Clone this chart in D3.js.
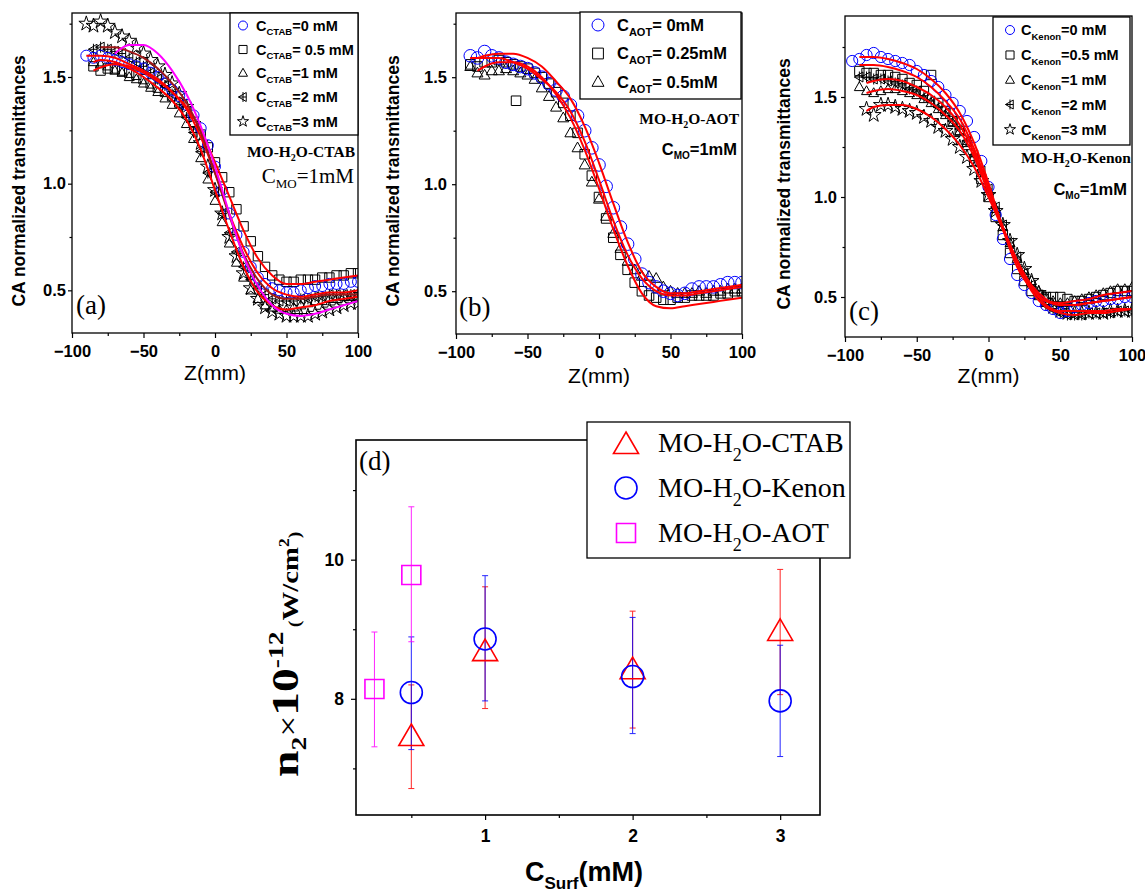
<!DOCTYPE html>
<html><head><meta charset="utf-8">
<script src="https://cdn.jsdelivr.net/npm/d3@7"></script>
<style>body{margin:0;background:#fff}svg{display:block}</style>
</head><body><svg id="c" width="1145" height="895"></svg>
<script>
// ---------------- DATA ----------------
const Z_90 = [-90,-85,-80,-75,-70,-65,-60,-55,-50,-45,-40,-35,-30,-25,-20,-15,-10,-5,0,5,10,15,20,25,30,35,40,45,50,55,60,65,70,75,80,85,90,95,100];
const Z_95 = [-95,-90,-85,-80,-75,-70,-65,-60,-55,-50,-45,-40,-35,-30,-25,-20,-15,-10,-5,0,5,10,15,20,25,30,35,40,45,50,55,60,65,70,75,80,85,90,95,100];
const FIT_Z = [-90,-85,-80,-70,-60,-50,-40,-30,-20,-10,0,10,20,30,40,50,60,70,80,90,100];

// panel (a) MO-H2O-CTAB
const A_C0   = [1.60,1.59,1.60,1.59,1.58,1.57,1.56,1.55,1.54,1.52,1.50,1.47,1.44,1.41,1.37,1.32,1.26,1.18,1.08,0.97,0.86,0.76,0.68,0.61,0.56,0.53,0.51,0.50,0.49,0.49,0.50,0.51,0.52,0.52,0.53,0.53,0.53,0.54,0.54];
const A_C05  = [null,1.55,1.53,1.54,1.54,1.53,1.52,1.51,1.49,1.47,1.45,1.43,1.41,1.38,1.34,1.29,1.23,1.17,1.10,1.03,0.96,0.88,0.80,0.73,0.66,0.61,0.57,0.55,0.54,0.54,0.55,0.55,0.55,0.56,0.56,0.57,0.57,0.58,0.58];
const A_C1   = [null,1.57,1.56,1.55,1.53,1.52,1.50,1.49,1.47,1.45,1.43,1.40,1.37,1.33,1.28,1.21,1.12,1.02,0.92,0.82,0.72,0.63,0.56,0.50,0.46,0.43,0.42,0.41,0.41,0.42,0.43,0.44,0.45,0.45,0.46,0.46,0.47,0.47,0.47];
const A_C2   = [null,1.63,1.64,1.63,1.62,1.61,1.59,1.57,1.55,1.52,1.49,1.46,1.42,1.37,1.31,1.24,1.15,1.05,0.96,0.86,0.77,0.68,0.61,0.55,0.51,0.48,0.46,0.45,0.45,0.45,0.46,0.46,0.47,0.47,0.48,0.48,0.48,0.48,0.49];
const A_C3   = [1.75,1.74,1.76,1.74,1.71,1.69,1.67,1.64,1.61,1.58,1.55,1.51,1.47,1.42,1.36,1.28,1.19,1.08,0.97,0.86,0.75,0.66,0.58,0.51,0.46,0.42,0.40,0.39,0.38,0.38,0.38,0.38,0.39,0.40,0.41,0.42,0.43,0.44,0.44];
const A_FIT1 = [1.60,1.60,1.60,1.59,1.56,1.53,1.49,1.43,1.35,1.22,1.05,0.86,0.70,0.58,0.51,0.48,0.47,0.48,0.49,0.49,0.50];
const A_FIT2 = [null,1.53,1.545,1.56,1.55,1.52,1.48,1.43,1.36,1.25,1.10,0.94,0.78,0.65,0.57,0.53,0.53,0.54,0.55,0.56,0.57];
const A_FIT3 = [null,1.57,1.58,1.57,1.54,1.50,1.45,1.39,1.30,1.16,0.97,0.78,0.61,0.49,0.43,0.41,0.42,0.43,0.45,0.46,0.47];
const A_FIT4 = [null,null,1.64,1.64,1.62,1.59,1.54,1.47,1.38,1.24,1.05,0.85,0.67,0.55,0.48,0.46,0.46,0.47,0.48,0.48,0.48];
const A_FIT5 = [null,null,null,1.61,1.65,1.65,1.61,1.53,1.42,1.27,1.08,0.86,0.66,0.52,0.43,0.39,0.38,0.39,0.41,0.43,0.45];

// panel (b) MO-H2O-AOT
const B_C0   = [1.60,1.59,1.62,1.60,1.59,1.57,1.56,1.55,1.54,1.52,1.50,1.47,1.44,1.41,1.37,1.32,1.25,1.17,1.09,0.99,0.89,0.80,0.72,0.65,0.58,0.54,0.52,0.50,0.49,0.48,0.49,0.51,0.52,0.52,0.52,0.53,0.54,0.54,0.54];
const B_C025 = [1.56,1.55,1.57,1.57,1.58,1.57,1.56,1.55,1.54,1.52,1.50,1.47,1.43,1.38,1.32,1.24,1.14,1.04,0.94,0.84,0.75,0.67,0.60,0.54,0.50,0.48,0.47,0.46,0.46,0.47,0.47,0.48,0.48,0.48,0.48,0.49,0.49,0.50,0.50];
const B_C025_OUT_Z = [-58];
const B_C025_OUT   = [1.39];
const B_C05  = [1.55,1.52,1.51,1.53,1.53,1.54,1.53,1.52,1.51,1.49,1.45,1.41,1.36,1.31,1.24,1.17,1.09,1.01,0.93,0.85,0.77,0.70,0.64,0.60,0.57,0.57,0.56,0.52,0.50,0.49,0.49,0.49,0.50,0.49,0.50,0.50,0.51,0.51,0.51];
const B_FIT1 = [1.59,1.59,1.60,1.61,1.61,1.59,1.55,1.48,1.40,1.27,1.10,0.91,0.73,0.59,0.52,0.49,0.49,0.50,0.51,0.52,0.53];
const B_FIT2 = [1.59,1.59,1.59,1.59,1.57,1.54,1.49,1.43,1.34,1.20,1.02,0.83,0.67,0.56,0.50,0.48,0.48,0.49,0.50,0.51,0.52];
const B_FIT3 = [null,1.53,1.55,1.57,1.57,1.55,1.50,1.42,1.31,1.16,0.98,0.79,0.62,0.49,0.43,0.42,0.43,0.44,0.45,0.46,0.47];

// panel (c) MO-H2O-Kenon
const C_C0   = [1.68,1.69,1.71,1.72,1.70,1.69,1.68,1.67,1.66,1.63,1.61,1.58,1.55,1.51,1.47,1.43,1.38,1.30,1.18,1.05,0.91,0.79,0.69,0.61,0.56,0.52,0.48,0.46,0.44,0.42,0.43,0.45,0.46,0.47,0.48,0.48,0.49,0.49,0.50,0.50];
const C_C05  = [null,1.63,1.62,1.62,1.61,1.61,1.60,1.59,1.57,1.56,1.53,1.61,1.47,1.43,1.38,1.33,1.26,1.18,1.09,1.00,0.90,0.81,0.72,0.64,0.58,0.53,0.51,0.50,0.50,0.50,0.49,0.48,0.48,0.49,0.50,0.51,0.52,0.53,0.53,0.53];
const C_C1   = [null,1.55,1.53,1.52,1.53,1.54,1.54,1.53,1.52,1.51,1.49,1.47,1.44,1.41,1.37,1.33,1.27,1.20,1.12,1.03,0.94,0.85,0.77,0.69,0.63,0.58,0.53,0.50,0.48,0.47,0.47,0.48,0.49,0.50,0.51,0.52,0.53,0.54,0.54,0.55];
const C_C2   = [null,1.60,1.60,1.59,1.59,1.58,1.57,1.56,1.54,1.53,1.50,1.48,1.45,1.42,1.38,1.34,1.28,1.21,1.13,1.04,0.95,0.86,0.77,0.70,0.62,0.56,0.51,0.46,0.44,0.42,0.41,0.41,0.41,0.42,0.42,0.42,0.42,0.43,0.43,0.43];
const C_C3   = [null,null,1.44,1.41,1.46,1.46,1.45,1.44,1.43,1.42,1.40,1.38,1.35,1.33,1.29,1.25,1.20,1.14,1.08,1.01,0.93,0.86,0.78,0.71,0.64,0.58,0.52,0.48,0.45,0.43,0.42,0.42,0.42,0.42,0.42,0.42,0.43,0.43,0.43,0.43];
const C_FIT1 = [1.70,1.70,1.70,1.69,1.67,1.64,1.59,1.52,1.42,1.27,1.07,0.84,0.65,0.54,0.48,0.47,0.48,0.49,0.51,0.52,0.53];
const C_FIT2 = [1.66,1.66,1.66,1.65,1.63,1.60,1.55,1.48,1.39,1.24,1.05,0.85,0.68,0.56,0.49,0.46,0.46,0.47,0.48,0.49,0.50];
const C_FIT3 = [null,1.57,1.58,1.59,1.58,1.55,1.51,1.45,1.36,1.22,1.04,0.85,0.68,0.55,0.48,0.46,0.46,0.47,0.48,0.49,0.50];
const C_FIT4 = [null,1.52,1.53,1.54,1.53,1.51,1.47,1.41,1.33,1.20,1.02,0.84,0.67,0.53,0.45,0.42,0.41,0.42,0.42,0.43,0.44];
const C_FIT5 = [null,1.43,1.45,1.46,1.46,1.44,1.40,1.34,1.26,1.15,1.00,0.84,0.68,0.55,0.46,0.43,0.43,0.43,0.43,0.44,0.44];

// panel (d) n2 vs C_Surf
const D_X_CTAB = [0.5,1,2,3];
const D_CTAB    = [7.48,8.70,8.44,8.99];
const D_CTAB_LO = [6.71,7.86,7.58,8.06];
const D_CTAB_HI = [8.20,9.61,9.26,9.86];
const D_X_KENON = [0.5,1,2,3];
const D_KENON    = [8.09,8.86,8.32,7.97];
const D_KENON_LO = [7.27,7.97,7.50,7.17];
const D_KENON_HI = [8.89,9.77,9.17,8.77];
const D_X_AOT = [0.25,0.5];
const D_AOT    = [8.14,9.78];
const D_AOT_LO = [7.31,8.82];
const D_AOT_HI = [8.96,10.76];

const Z_TICKS = [-100,-50,0,50,100];
const Z_MINOR = [-75,-25,25,75];
const T_TICKS = [0.5,1.0,1.5];
const T_MINOR = [0.75,1.25,1.75];
const D_XTICKS = [1,2,3];
const D_XMINOR = [0.5,1.5,2.5];
const D_YTICKS = [8,10];
const D_YMINOR = [7,9,11];

// ---------------- DRAW ----------------
const SANS = "'Liberation Sans', Arial, sans-serif";
const SERIF = "'Liberation Serif', 'Times New Roman', serif";
const svg = d3.select('#c');

const SHAPES = {
  circle: s => `M${-s},0A${s},${s} 0 1,0 ${s},0A${s},${s} 0 1,0 ${-s},0Z`,
  square: s => `M${-s*0.9},${-s*0.9}H${s*0.9}V${s*0.9}H${-s*0.9}Z`,
  triangle: s => `M0,${-s*1.05}L${s},${s*0.72}L${-s},${s*0.72}Z`,
  ltri: s => `M${-s},0L${s*0.72},${-s}L${s*0.72},${s}ZM0,${-s*1.1}V${s*1.1}M${-s},0H${s*0.72}`,
  star: s => d3.symbol(d3.symbolStar, s*s*1.9)()
};

function rich(g, x, y, parts, o) {
  const t = g.append('text').attr('x', x).attr('y', y)
    .attr('font-family', o.family).attr('font-size', o.fs)
    .attr('font-weight', o.weight || 'normal').attr('fill', '#000')
    .attr('text-anchor', o.anchor || 'start');
  if (o.transform) t.attr('transform', o.transform);
  let cur = 0;
  parts.forEach(p => {
    const sh = p.sh || 0;
    const ts = t.append('tspan').text(p.t).attr('dy', sh - cur);
    cur = sh;
    if (p.fs) ts.attr('font-size', p.fs);
    if (p.family) ts.attr('font-family', p.family);
    if (p.weight) ts.attr('font-weight', p.weight);
  });
  return t;
}

function styleAxis(a, fs) {
  a.select('.domain').remove();
  a.selectAll('.tick line').attr('stroke', '#000').attr('stroke-width', 1.2);
  a.selectAll('.tick text').attr('font-family', SANS).attr('font-size', fs)
    .attr('font-weight', 'bold').attr('fill', '#000');
}

function zPanel(P) {
  const x = d3.scaleLinear().domain([-100, 100]).range([P.left, P.right]);
  const y = d3.scaleLinear().domain(P.yDomain).range([P.bottom, P.top]);
  const g = svg.append('g');
  svg.append('clipPath').attr('id', 'clip' + P.id).append('rect')
    .attr('x', P.left).attr('y', P.top).attr('width', P.right - P.left).attr('height', P.bottom - P.top);
  const plot = g.append('g').attr('clip-path', `url(#clip${P.id})`);
  P.series.forEach(s => {
    const pts = s.z.map((z, i) => ({ z, v: s.v[i] })).filter(d => d.v != null);
    plot.append('g').selectAll('path').data(pts).join('path')
      .attr('transform', d => `translate(${x(d.z)},${y(d.v)})`)
      .attr('d', SHAPES[s.shape](s.size || P.ms))
      .attr('fill', 'none').attr('stroke', s.color).attr('stroke-width', 1);
  });
  const line = d3.line().x(d => x(d.z)).y(d => y(d.v)).curve(d3.curveMonotoneX);
  P.fits.forEach(f => {
    const pts = FIT_Z.map((z, i) => ({ z, v: f.v[i] })).filter(d => d.v != null);
    plot.append('path').attr('d', line(pts)).attr('fill', 'none')
      .attr('stroke', f.color).attr('stroke-width', 2);
  });
  g.append('rect').attr('x', P.left).attr('y', P.top).attr('width', P.right - P.left)
    .attr('height', P.bottom - P.top).attr('fill', 'none').attr('stroke', '#000').attr('stroke-width', 1.3);
  // axes
  const xa = g.append('g').attr('transform', `translate(0,${P.bottom})`)
    .call(d3.axisBottom(x).tickValues(Z_TICKS).tickSize(5).tickPadding(7).tickFormat(d3.format('d')));
  styleAxis(xa, 16.5);
  const xm = g.append('g').attr('transform', `translate(0,${P.bottom})`)
    .call(d3.axisBottom(x).tickValues(Z_MINOR).tickSize(3).tickFormat(''));
  styleAxis(xm, 16.5);
  const ya = g.append('g').attr('transform', `translate(${P.left},0)`)
    .call(d3.axisLeft(y).tickValues(T_TICKS).tickSize(4).tickPadding(P.ypad).tickFormat(d3.format('.1f')));
  styleAxis(ya, 16.5);
  const ym = g.append('g').attr('transform', `translate(${P.left},0)`)
    .call(d3.axisLeft(y).tickValues(T_MINOR.filter(v => v <= P.yDomain[1])).tickSize(2.5).tickFormat(''));
  styleAxis(ym, 16.5);
  // axis titles
  g.append('text').attr('transform', `translate(${P.ylabX},${P.ylabY}) rotate(-90)`)
    .attr('text-anchor', 'middle').attr('font-family', SANS).attr('font-weight', 'bold')
    .attr('font-size', 17.5).text('CA normalized transmittances');
  g.append('text').attr('x', (P.left + P.right) / 2).attr('y', P.xlabY)
    .attr('text-anchor', 'middle').attr('font-family', SANS).attr('font-size', 21).text('Z(mm)');
  // legend (in legend order)
  const L = P.legend;
  g.append('rect').attr('x', L.x0).attr('y', L.y0).attr('width', L.x1 - L.x0).attr('height', L.y1 - L.y0)
    .attr('fill', '#fff').attr('stroke', '#000').attr('stroke-width', 1.3);
  const legSeries = P.series.filter(s => s.leg != null).sort((a, b) => a.leg - b.leg);
  legSeries.forEach((s, i) => {
    g.append('path').attr('transform', `translate(${L.symX},${L.rows[i]})`)
      .attr('d', SHAPES[s.shape](L.ms)).attr('fill', 'none').attr('stroke', s.color).attr('stroke-width', 1);
    rich(g, L.textX, L.rows[i] + L.fs * 0.36, [
      { t: 'C' }, { t: L.sub, fs: L.subFs, sh: L.subSh }, { t: L.labels[i] }
    ], { family: SANS, fs: L.fs, weight: 'bold' });
  });
  P.notes.forEach(n => rich(g, n.x, n.y, n.parts, n.o));
}

// (a)
zPanel({
  id: 'a', left: 72, right: 358, top: 13, bottom: 333, yDomain: [0.3, 1.8], ms: 5, ypad: 2,
  ylabX: 25, ylabY: 181, xlabY: 380,
  series: [
    { z: Z_90, v: A_C05, shape: 'square', color: '#000', size: 5.2, leg: 1 },
    { z: Z_90, v: A_C1, shape: 'triangle', color: '#000', leg: 2 },
    { z: Z_90, v: A_C2, shape: 'ltri', color: '#000', leg: 3 },
    { z: Z_90, v: A_C3, shape: 'star', color: '#000', size: 6, leg: 4 },
    { z: Z_90, v: A_C0, shape: 'circle', color: '#0000ff', size: 5.5, leg: 0 }
  ],
  fits: [
    { v: A_FIT1, color: '#ff0000' }, { v: A_FIT2, color: '#ff0000' }, { v: A_FIT3, color: '#ff0000' },
    { v: A_FIT4, color: '#a01818' }, { v: A_FIT5, color: '#ff00ff' }
  ],
  legend: { x0: 230, y0: 13, x1: 358, y1: 135, symX: 243, textX: 256, ms: 4.5,
    rows: [25.5, 49.5, 73, 97, 121.5], fs: 14.5, subFs: 9.5, subSh: 4.5, sub: 'CTAB',
    labels: ['=0 mM', '= 0.5 mM', '=1 mM', '=2 mM', '=3 mM'] },
  notes: [
    { x: 355, y: 157, parts: [{ t: 'MO-H' }, { t: '2', fs: 10, sh: 4 }, { t: 'O-CTAB' }], o: { family: SERIF, fs: 15.5, weight: 'bold', anchor: 'end' } },
    { x: 354, y: 183, parts: [{ t: 'C' }, { t: 'MO', fs: 13, sh: 5 }, { t: '=1mM' }], o: { family: SERIF, fs: 21, anchor: 'end' } },
    { x: 76, y: 314, parts: [{ t: '(a)' }], o: { family: SERIF, fs: 27 } }
  ]
});
// (b)
zPanel({
  id: 'b', left: 456, right: 742, top: 13, bottom: 334, yDomain: [0.3, 1.8], ms: 5, ypad: 5,
  ylabX: 399, ylabY: 181, xlabY: 383,
  series: [
    { z: Z_90, v: B_C025, shape: 'square', color: '#000', size: 5.3, leg: 1 },
    { z: B_C025_OUT_Z, v: B_C025_OUT, shape: 'square', color: '#000', size: 5.3 },
    { z: Z_90, v: B_C05, shape: 'triangle', color: '#000', size: 5.5, leg: 2 },
    { z: Z_90, v: B_C0, shape: 'circle', color: '#0000ff', size: 6.3, leg: 0 }
  ],
  fits: [
    { v: B_FIT1, color: '#ff0000' }, { v: B_FIT2, color: '#ff0000' }, { v: B_FIT3, color: '#ff0000' }
  ],
  legend: { x0: 580, y0: 12, x1: 741, y1: 99, symX: 598, textX: 617, ms: 6,
    rows: [25, 53.5, 82], fs: 16.5, subFs: 11, subSh: 5, sub: 'AOT',
    labels: ['= 0mM', '= 0.25mM', '= 0.5mM'] },
  notes: [
    { x: 739, y: 124, parts: [{ t: 'MO-H' }, { t: '2', fs: 10, sh: 4 }, { t: 'O-AOT' }], o: { family: SERIF, fs: 15.5, weight: 'bold', anchor: 'end' } },
    { x: 737, y: 155, parts: [{ t: 'C' }, { t: 'MO', fs: 10, sh: 4 }, { t: '=1mM' }], o: { family: SANS, fs: 16.5, weight: 'bold', anchor: 'end' } },
    { x: 459, y: 316, parts: [{ t: '(b)' }], o: { family: SERIF, fs: 27 } }
  ]
});
// (c)
zPanel({
  id: 'c', left: 845, right: 1132, top: 16, bottom: 337, yDomain: [0.3, 1.905], ms: 5, ypad: 4,
  ylabX: 790, ylabY: 184, xlabY: 383,
  series: [
    { z: Z_95, v: C_C05, shape: 'square', color: '#000', size: 5.2, leg: 1 },
    { z: Z_95, v: C_C1, shape: 'triangle', color: '#000', leg: 2 },
    { z: Z_95, v: C_C2, shape: 'ltri', color: '#000', leg: 3 },
    { z: Z_95, v: C_C3, shape: 'star', color: '#000', size: 6, leg: 4 },
    { z: Z_95, v: C_C0, shape: 'circle', color: '#0000ff', size: 5.6, leg: 0 }
  ],
  fits: [
    { v: C_FIT1, color: '#ff0000' }, { v: C_FIT2, color: '#ff0000' }, { v: C_FIT3, color: '#ff0000' },
    { v: C_FIT4, color: '#ff0000' }, { v: C_FIT5, color: '#ff0000' }
  ],
  legend: { x0: 993, y0: 17, x1: 1130, y1: 145, symX: 1010, textX: 1021, ms: 4.5,
    rows: [30, 55, 80, 104.5, 129.5], fs: 14.5, subFs: 9.5, subSh: 5, sub: 'Kenon',
    labels: ['=0 mM', '=0.5 mM', '=1 mM', '=2 mM', '=3 mM'] },
  notes: [
    { x: 1131, y: 163, parts: [{ t: 'MO-H' }, { t: '2', fs: 10, sh: 4 }, { t: 'O-Kenon' }], o: { family: SERIF, fs: 15.5, weight: 'bold', anchor: 'end' } },
    { x: 1127, y: 195, parts: [{ t: 'C' }, { t: 'Mo', fs: 10, sh: 4 }, { t: '=1mM' }], o: { family: SANS, fs: 16.5, weight: 'bold', anchor: 'end' } },
    { x: 849, y: 320, parts: [{ t: '(c)' }], o: { family: SERIF, fs: 27 } }
  ]
});

// (d)
(function () {
  const left = 356, right = 820, top = 440, bottom = 815;
  const x = d3.scaleLinear().domain([0.125, 3.27]).range([left, right]);
  const y = d3.scaleLinear().domain([6.33, 11.72]).range([bottom, top]);
  const g = svg.append('g');
  g.append('rect').attr('x', left).attr('y', top).attr('width', right - left).attr('height', bottom - top)
    .attr('fill', 'none').attr('stroke', '#000').attr('stroke-width', 1.6);
  const xa = g.append('g').attr('transform', `translate(0,${bottom})`)
    .call(d3.axisBottom(x).tickValues(D_XTICKS).tickSize(5).tickPadding(10).tickFormat(d3.format('d')));
  styleAxis(xa, 17.5);
  const xm = g.append('g').attr('transform', `translate(0,${bottom})`)
    .call(d3.axisBottom(x).tickValues(D_XMINOR).tickSize(3).tickFormat(''));
  styleAxis(xm, 17.5);
  const ya = g.append('g').attr('transform', `translate(${left},0)`)
    .call(d3.axisLeft(y).tickValues(D_YTICKS).tickSize(5).tickPadding(7).tickFormat(d3.format('d')));
  styleAxis(ya, 17.5);
  const ym = g.append('g').attr('transform', `translate(${left},0)`)
    .call(d3.axisLeft(y).tickValues(D_YMINOR).tickSize(3).tickFormat(''));
  styleAxis(ym, 17.5);

  const groups = [
    { xs: D_X_CTAB, v: D_CTAB, lo: D_CTAB_LO, hi: D_CTAB_HI, color: '#ff0000', shape: 'tri', name: 'O-CTAB' },
    { xs: D_X_KENON, v: D_KENON, lo: D_KENON_LO, hi: D_KENON_HI, color: '#0000ff', shape: 'circ', name: 'O-Kenon' },
    { xs: D_X_AOT, v: D_AOT, lo: D_AOT_LO, hi: D_AOT_HI, color: '#ff00ff', shape: 'sq', name: 'O-AOT' }
  ];
  const DSH = {
    tri: 'M0,-11L12.5,10.5L-12.5,10.5Z',
    circ: 'M-11,0A11,11 0 1,0 11,0A11,11 0 1,0 -11,0Z',
    sq: 'M-9.5,-9.5H9.5V9.5H-9.5Z'
  };
  groups.forEach(s => {
    const pts = s.xs.map((xv, i) => ({ x: xv, v: s.v[i], lo: s.lo[i], hi: s.hi[i] }));
    const eg = g.append('g').attr('stroke', s.color).attr('stroke-width', 1).attr('opacity', 0.85);
    pts.forEach(d => {
      eg.append('line').attr('x1', x(d.x)).attr('x2', x(d.x)).attr('y1', y(d.lo)).attr('y2', y(d.hi));
      eg.append('line').attr('x1', x(d.x) - 3).attr('x2', x(d.x) + 3).attr('y1', y(d.lo)).attr('y2', y(d.lo));
      eg.append('line').attr('x1', x(d.x) - 3).attr('x2', x(d.x) + 3).attr('y1', y(d.hi)).attr('y2', y(d.hi));
    });
  });
  groups.forEach(s => {
    const pts = s.xs.map((xv, i) => ({ x: xv, v: s.v[i] }));
    g.append('g').selectAll('path').data(pts).join('path')
      .attr('transform', d => `translate(${x(d.x)},${y(d.v)})`)
      .attr('d', DSH[s.shape]).attr('fill', 'none').attr('stroke', s.color).attr('stroke-width', 1.6);
  });
  // legend
  g.append('rect').attr('x', 587).attr('y', 422).attr('width', 263).attr('height', 136)
    .attr('fill', '#fff').attr('stroke', '#000').attr('stroke-width', 1.3);
  const rows = [443, 488, 533];
  groups.forEach((s, i) => {
    g.append('path').attr('transform', `translate(626,${rows[i]})`).attr('d', DSH[s.shape])
      .attr('fill', 'none').attr('stroke', s.color).attr('stroke-width', 1.6);
    rich(g, 658, rows[i] + 9, [{ t: 'MO-H' }, { t: '2', fs: 18, sh: 9 }, { t: s.name }],
      { family: SERIF, fs: 28 });
  });
  rich(g, 359, 470, [{ t: '(d)' }], { family: SERIF, fs: 27 });
  // axis titles
  rich(g, 525, 881, [{ t: 'C' }, { t: 'Surf', fs: 17, sh: 8 }, { t: '(mM)' }],
    { family: SANS, fs: 27, weight: 'bold' });
  rich(g, 0, 0, [
    { t: 'n', fs: 38 }, { t: '2', fs: 22, sh: 8 }, { t: '×', fs: 30, family: SERIF, weight: 'normal' },
    { t: '10', fs: 38 }, { t: '-12', fs: 22, sh: -15 }, { t: '  ', fs: 14 },
    { t: '(', fs: 16, sh: 2 }, { t: 'W/cm', fs: 23 }, { t: '2', fs: 14, sh: -9 }, { t: ')', fs: 16, sh: 2 }
  ], { family: SERIF, fs: 38, weight: 'bold', transform: 'translate(298,777) rotate(-90) scale(1.25,1)' });
})();
</script></body></html>
